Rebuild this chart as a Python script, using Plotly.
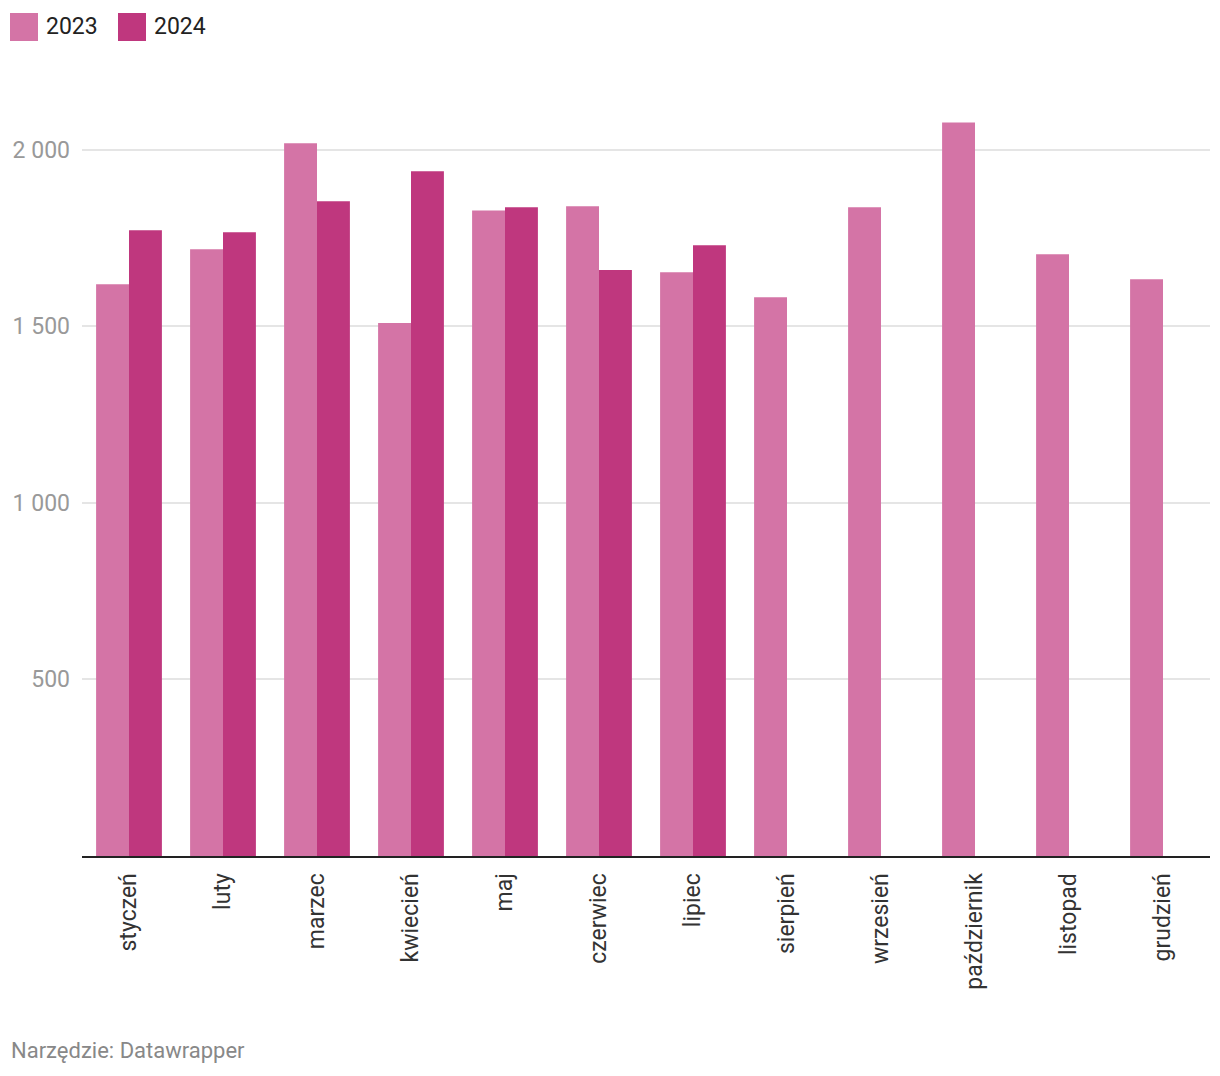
import plotly.graph_objects as go

months = ["styczeń", "luty", "marzec", "kwiecień", "maj", "czerwiec", "lipiec",
          "sierpień", "wrzesień", "październik", "listopad", "grudzień"]
values_2023 = [1619, 1718, 2018, 1509, 1828, 1840, 1653, 1582, 1837, 2077, 1704, 1633]
values_2024 = [1772, 1766, 1854, 1939, 1837, 1659, 1729, None, None, None, None, None]
series_names = ["2023", "2024"]
colors = ["#d474a6", "#bf377e"]
y_tickvals = [500, 1000, 1500, 2000]
y_ticktext = ["500", "1 000", "1 500", "2 000"]

W, H = 1220, 1076
L, R, T, B = 82, 10, 79, 220
FONT = "Roboto"

def px2paper(x, y):
    return (x - L) / (W - L - R), (H - B - y) / (H - T - B)

fig = go.Figure()
for name, vals, col in zip(series_names, [values_2023, values_2024], colors):
    fig.add_trace(go.Bar(x=months, y=vals, name=name, marker=dict(color=col, line=dict(width=0)),
                         showlegend=False))

# custom legend
shapes = []
annotations = []
leg_x = [10, 118]
for i, (name, col) in enumerate(zip(series_names, colors)):
    x0, y0 = px2paper(leg_x[i], 13)
    x1, y1 = px2paper(leg_x[i] + 28, 41)
    shapes.append(dict(type="rect", xref="paper", yref="paper", x0=x0, x1=x1, y0=y1, y1=y0,
                       fillcolor=col, line=dict(width=0)))
    tx, ty = px2paper(leg_x[i] + 34, 27)
    annotations.append(dict(text=name, xref="paper", yref="paper", x=tx, y=ty, xanchor="left",
                            yanchor="middle", showarrow=False,
                            font=dict(family=FONT, size=23, color="#222222")))
fx, fy = px2paper(9, 1050)
annotations.append(dict(text="Narzędzie: Datawrapper", xref="paper", yref="paper", x=fx, y=fy,
                        xanchor="left", yanchor="middle", showarrow=False,
                        font=dict(family=FONT, size=22, color="#888888")))

fig.update_layout(
    width=W, height=H,
    margin=dict(l=L, r=R, t=T, b=B, pad=0),
    paper_bgcolor="white", plot_bgcolor="white",
    barmode="group", bargap=0.3, bargroupgap=0,
    shapes=shapes, annotations=annotations,
    font=dict(family=FONT),
)
fig.update_xaxes(type="category", tickangle=-90, showgrid=False,
                 showline=True, linecolor="#222222", linewidth=2,
                 ticks="", tickfont=dict(family=FONT, size=23, color="#333333"),
                 ticklabelstandoff=6)
fig.update_yaxes(range=[0, 2200], tickvals=y_tickvals, ticktext=y_ticktext,
                 showgrid=True, gridcolor="#e5e5e5", gridwidth=2, zeroline=False,
                 showline=False, ticks="", ticklabelstandoff=11,
                 tickfont=dict(family=FONT, size=23, color="#999999"))

fig.write_html("out.html", config={"displayModeBar": False},
               post_script="document.body.style.margin='0';document.body.style.padding='0';")
